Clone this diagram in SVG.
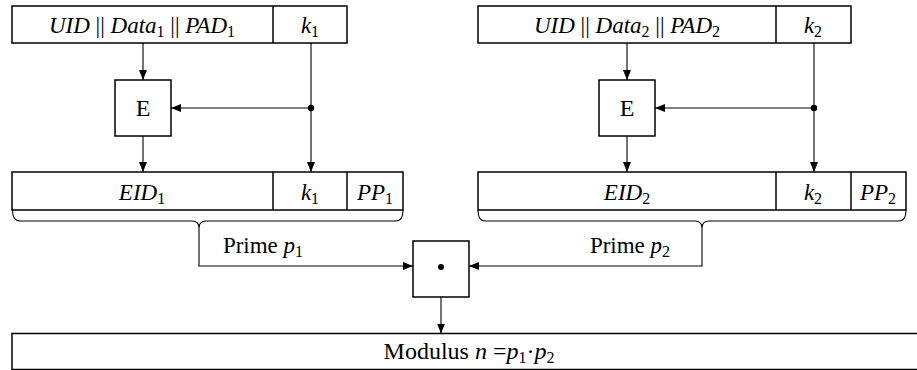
<svg xmlns="http://www.w3.org/2000/svg" width="917" height="370" viewBox="0 0 917 370">
<style>
.box{fill:#fff;stroke:#000;stroke-width:1.5}
.ln{fill:none;stroke:#000;stroke-width:1.1}
.br{fill:none;stroke:#000;stroke-width:1.1}
text{font-family:"Liberation Serif","Times New Roman",serif;font-size:23px;fill:#000;text-anchor:middle}
.i{font-style:italic}
.s{font-size:16px;font-style:normal}
</style>
<defs>
<marker id="ah" viewBox="0 0 10 8" refX="10" refY="4" markerWidth="10" markerHeight="8" markerUnits="userSpaceOnUse" orient="auto">
<path d="M0,0L10,4L0,8z" fill="#000"/>
</marker>
</defs>
<g id="connectors">
<path class="ln" d="M143,43V80" marker-end="url(#ah)"/>
<path class="ln" d="M311,43V172" marker-end="url(#ah)"/>
<path class="ln" d="M311,108H171" marker-end="url(#ah)"/>
<circle cx="311" cy="108" r="3.2"/>
<path class="ln" d="M143,136V172" marker-end="url(#ah)"/>
<path class="ln" d="M627,43V80" marker-end="url(#ah)"/>
<path class="ln" d="M814,43V172" marker-end="url(#ah)"/>
<path class="ln" d="M814,108H655" marker-end="url(#ah)"/>
<circle cx="814" cy="108" r="3.2"/>
<path class="ln" d="M627,136V172" marker-end="url(#ah)"/>
<path class="br" d="M12.5,210Q12.5,221 20,221H192Q199,221 199,228Q199,221 206,221H396Q403,221 403,210"/>
<path class="br" d="M478,210Q478,221 485,221H695Q702,221 702,228Q702,221 709,221H899Q906,221 906,210"/>
<path class="ln" d="M199,228V266H413" marker-end="url(#ah)"/>
<path class="ln" d="M702,228V266H469" marker-end="url(#ah)"/>
<path class="ln" d="M441,297V333.5" marker-end="url(#ah)"/>
</g>
<g id="top1">
<rect class="box" x="12" y="6" width="335" height="37"/>
<line class="box" x1="273" y1="6" x2="273" y2="43"/>
<text x="142" y="33"><tspan class="i">UID</tspan> || <tspan class="i">Data</tspan><tspan class="s" dy="4">1</tspan><tspan dy="-4"> || </tspan><tspan class="i">PAD</tspan><tspan class="s" dy="4">1</tspan></text>
<text x="310" y="33"><tspan class="i">k</tspan><tspan class="s" dy="4">1</tspan></text>
</g>
<g id="E1">
<rect class="box" x="115" y="80" width="56" height="56"/>
<text x="143" y="116" style="font-size:24px">E</text>
</g>
<g id="bottom1">
<rect class="box" x="12" y="172" width="391" height="38"/>
<line class="box" x1="273" y1="172" x2="273" y2="210"/>
<line class="box" x1="347" y1="172" x2="347" y2="210"/>
<text x="142" y="200"><tspan class="i">EID</tspan><tspan class="s" dy="4">1</tspan></text>
<text x="310" y="200"><tspan class="i">k</tspan><tspan class="s" dy="4">1</tspan></text>
<text x="375" y="200"><tspan class="i">PP</tspan><tspan class="s" dy="4">1</tspan></text>
</g>
<g id="top2">
<rect class="box" x="478" y="6" width="373" height="37"/>
<line class="box" x1="776" y1="6" x2="776" y2="43"/>
<text x="627" y="33"><tspan class="i">UID</tspan> || <tspan class="i">Data</tspan><tspan class="s" dy="4">2</tspan><tspan dy="-4"> || </tspan><tspan class="i">PAD</tspan><tspan class="s" dy="4">2</tspan></text>
<text x="813" y="33"><tspan class="i">k</tspan><tspan class="s" dy="4">2</tspan></text>
</g>
<g id="E2">
<rect class="box" x="599" y="80" width="56" height="56"/>
<text x="627" y="116" style="font-size:24px">E</text>
</g>
<g id="bottom2">
<rect class="box" x="478" y="172" width="428" height="38"/>
<line class="box" x1="776" y1="172" x2="776" y2="210"/>
<line class="box" x1="851" y1="172" x2="851" y2="210"/>
<text x="627" y="200"><tspan class="i">EID</tspan><tspan class="s" dy="4">2</tspan></text>
<text x="813" y="200"><tspan class="i">k</tspan><tspan class="s" dy="4">2</tspan></text>
<text x="878" y="200"><tspan class="i">PP</tspan><tspan class="s" dy="4">2</tspan></text>
</g>
<g id="label1">
<text x="263" y="253">Prime <tspan class="i">p</tspan><tspan class="s" dy="4">1</tspan></text>
</g>
<g id="label2">
<text x="630" y="253">Prime <tspan class="i">p</tspan><tspan class="s" dy="4">2</tspan></text>
</g>
<g id="mult">
<rect class="box" x="413" y="241" width="56" height="56"/>
<circle cx="441" cy="267" r="3"/>
</g>
<g id="modulus">
<rect class="box" x="12" y="333.5" width="920" height="36"/>
<text x="469" y="359" style="font-size:24px">Modulus <tspan class="i">n</tspan> =<tspan class="i">p</tspan><tspan class="s" dy="4">1</tspan><tspan dy="-4">·</tspan><tspan class="i">p</tspan><tspan class="s" dy="4">2</tspan></text>
</g>
</svg>
